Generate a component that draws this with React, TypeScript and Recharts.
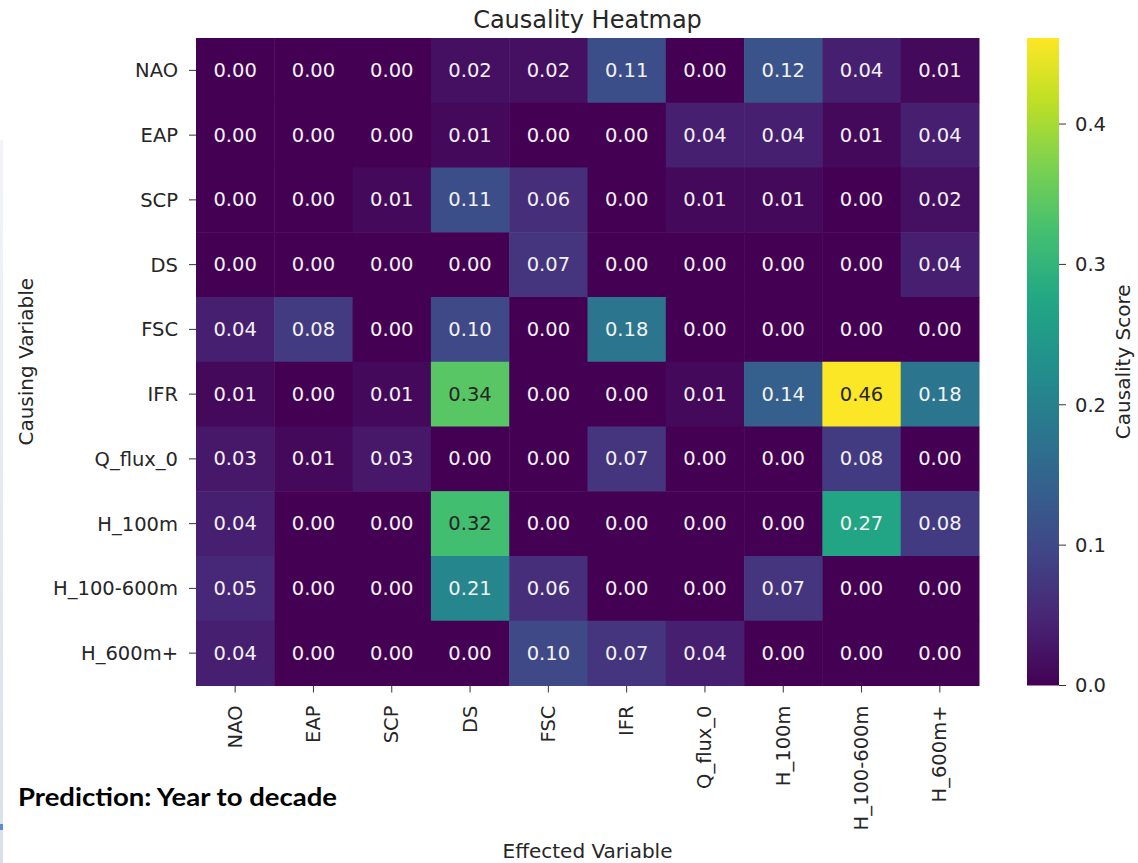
import { ScatterChart, Scatter, XAxis, YAxis, BarChart, Bar } from "recharts";

const effectedVars = ["NAO", "EAP", "SCP", "DS", "FSC", "IFR", "Q_flux_0", "H_100m", "H_100-600m", "H_600m+"];
const causingVars = ["NAO", "EAP", "SCP", "DS", "FSC", "IFR", "Q_flux_0", "H_100m", "H_100-600m", "H_600m+"];

const naoRow = [0.0, 0.0, 0.0, 0.02, 0.02, 0.11, 0.0, 0.12, 0.04, 0.01];
const eapRow = [0.0, 0.0, 0.0, 0.01, 0.0, 0.0, 0.04, 0.04, 0.01, 0.04];
const scpRow = [0.0, 0.0, 0.01, 0.11, 0.06, 0.0, 0.01, 0.01, 0.0, 0.02];
const dsRow = [0.0, 0.0, 0.0, 0.0, 0.07, 0.0, 0.0, 0.0, 0.0, 0.04];
const fscRow = [0.04, 0.08, 0.0, 0.1, 0.0, 0.18, 0.0, 0.0, 0.0, 0.0];
const ifrRow = [0.01, 0.0, 0.01, 0.34, 0.0, 0.0, 0.01, 0.14, 0.46, 0.18];
const qfluxRow = [0.03, 0.01, 0.03, 0.0, 0.0, 0.07, 0.0, 0.0, 0.08, 0.0];
const h100Row = [0.04, 0.0, 0.0, 0.32, 0.0, 0.0, 0.0, 0.0, 0.27, 0.08];
const h100600Row = [0.05, 0.0, 0.0, 0.21, 0.06, 0.0, 0.0, 0.07, 0.0, 0.0];
const h600Row = [0.04, 0.0, 0.0, 0.0, 0.1, 0.07, 0.04, 0.0, 0.0, 0.0];

const scoreRows = [naoRow, eapRow, scpRow, dsRow, fscRow, ifrRow, qfluxRow, h100Row, h100600Row, h600Row];

const colorbarTicks = [0, 0.1, 0.2, 0.3, 0.4];
const VMAX = 0.4613;

// viridis, sampled every 0.1
const viridis = [
  "#440154", "#482475", "#414487", "#355f8d", "#2a788e",
  "#21918c", "#22a884", "#44bf70", "#7ad151", "#bddf26", "#fde725",
];

const W = 1138;
const H = 863;
const PLOT_LEFT = 196;
const PLOT_RIGHT = 979;
const PLOT_TOP = 38;
const PLOT_BOTTOM = 685.5;
const CELL_W = (PLOT_RIGHT - PLOT_LEFT) / effectedVars.length;
const CELL_H = (PLOT_BOTTOM - PLOT_TOP) / causingVars.length;
const FONT = "'DejaVu Sans', sans-serif";
const INK = "#262626";

function hexToRgb(h: string) {
  return [1, 3, 5].map((i) => parseInt(h.slice(i, i + 2), 16));
}

function viridisColor(t: number) {
  const c = Math.max(0, Math.min(1, t)) * (viridis.length - 1);
  const i = Math.min(Math.floor(c), viridis.length - 2);
  const f = c - i;
  const a = hexToRgb(viridis[i]);
  const b = hexToRgb(viridis[i + 1]);
  return a.map((v, k) => Math.round(v + (b[k] - v) * f));
}

function luminance(rgb: number[]) {
  const lin = rgb.map((v) => {
    const s = v / 255;
    return s <= 0.03928 ? s / 12.92 : Math.pow((s + 0.055) / 1.055, 2.4);
  });
  return 0.2126 * lin[0] + 0.7152 * lin[1] + 0.0722 * lin[2];
}

const cells = scoreRows.flatMap((row, y) => row.map((v, x) => ({ x, y, v })));

function HeatCell(props: any) {
  const { cx, cy, payload } = props;
  if (cx == null || cy == null) return null;
  const rgb = viridisColor(payload.v / VMAX);
  // dark text on the bright greens/yellow, light text elsewhere
  const textColor = luminance(rgb) > 0.38 ? INK : "#f2f2f2";
  return (
    <g>
      <rect
        x={cx - CELL_W / 2}
        y={cy - CELL_H / 2}
        width={CELL_W + 0.5}
        height={CELL_H + 0.5}
        fill={`rgb(${rgb.join(",")})`}
      />
      <text
        x={cx}
        y={cy}
        textAnchor="middle"
        dominantBaseline="central"
        fontFamily={FONT}
        fontSize={19.5}
        fill={textColor}
      >
        {payload.v.toFixed(2)}
      </text>
    </g>
  );
}

function XTick(props: any) {
  const { x, y, payload } = props;
  return (
    <text
      x={x}
      y={y}
      transform={`rotate(-90 ${x} ${y})`}
      textAnchor="end"
      dominantBaseline="central"
      fontFamily={FONT}
      fontSize={19.5}
      fill={INK}
    >
      {effectedVars[payload.value]}
    </text>
  );
}

const idx = effectedVars.map((_, i) => i);

export default function App() {
  return (
    <div style={{ position: "absolute", left: 0, top: 0, width: W, height: H, background: "#fff", overflow: "hidden" }}>
      <div style={{ position: "absolute", left: 0, top: 140, width: 3, height: 723, background: "linear-gradient(#f2f4f7, #d9e0e9)" }} />
      <div style={{ position: "absolute", left: 0, top: 824, width: 3, height: 6, background: "#5b8bd0" }} />

      <div style={{ position: "absolute", left: 0, top: 0 }}>
        <ScatterChart width={W} height={H} margin={{ top: PLOT_TOP, right: W - PLOT_RIGHT, bottom: 0, left: 0 }}>
          <XAxis
            type="number"
            dataKey="x"
            domain={[-0.5, 9.5]}
            ticks={idx}
            interval={0}
            height={H - PLOT_BOTTOM}
            axisLine={false}
            tickSize={7}
            tickMargin={13}
            tickLine={{ stroke: "#333" }}
            tick={<XTick />}
          />
          <YAxis
            type="number"
            dataKey="y"
            domain={[-0.5, 9.5]}
            reversed
            ticks={idx}
            interval={0}
            width={PLOT_LEFT}
            axisLine={false}
            tickSize={7}
            tickMargin={11}
            tickLine={{ stroke: "#333" }}
            tickFormatter={(v: number) => causingVars[v]}
            tick={{ fill: INK, fontSize: 19.5, fontFamily: FONT }}
          />
          <Scatter data={cells} shape={<HeatCell />} isAnimationActive={false} />
        </ScatterChart>
      </div>

      <div style={{ position: "absolute", left: 1027, top: 0 }}>
        <BarChart
          width={W - 1027}
          height={H}
          data={[{ name: "cb", v: VMAX }]}
          margin={{ top: PLOT_TOP, right: 0, bottom: H - PLOT_BOTTOM, left: 0 }}
          barCategoryGap={0}
        >
          <defs>
            <linearGradient id="viridisGrad" x1="0" y1="1" x2="0" y2="0">
              {viridis.map((c, i) => (
                <stop key={i} offset={`${i * 10}%`} stopColor={c} />
              ))}
            </linearGradient>
          </defs>
          <XAxis dataKey="name" hide />
          <YAxis
            orientation="right"
            domain={[0, VMAX]}
            ticks={colorbarTicks}
            width={W - 1059}
            axisLine={false}
            tickSize={7}
            tickMargin={9}
            tickLine={{ stroke: "#333" }}
            tickFormatter={(v: number) => v.toFixed(1)}
            tick={{ fill: INK, fontSize: 19.5, fontFamily: FONT }}
          />
          <Bar dataKey="v" fill="url(#viridisGrad)" isAnimationActive={false} />
        </BarChart>
      </div>

      <svg width={W} height={H} style={{ position: "absolute", left: 0, top: 0, pointerEvents: "none" }}>
        <text x={(PLOT_LEFT + PLOT_RIGHT) / 2} y={28} textAnchor="middle" fontFamily={FONT} fontSize={24} fill={INK}>
          Causality Heatmap
        </text>
        <text
          x={33}
          y={(PLOT_TOP + PLOT_BOTTOM) / 2}
          transform={`rotate(-90 33 ${(PLOT_TOP + PLOT_BOTTOM) / 2})`}
          textAnchor="middle"
          fontFamily={FONT}
          fontSize={20}
          fill={INK}
        >
          Causing Variable
        </text>
        <text x={(PLOT_LEFT + PLOT_RIGHT) / 2} y={858} textAnchor="middle" fontFamily={FONT} fontSize={20} fill={INK}>
          Effected Variable
        </text>
        <text
          x={1130}
          y={(PLOT_TOP + PLOT_BOTTOM) / 2}
          transform={`rotate(-90 1130 ${(PLOT_TOP + PLOT_BOTTOM) / 2})`}
          textAnchor="middle"
          fontFamily={FONT}
          fontSize={20}
          fill={INK}
        >
          Causality Score
        </text>
        <text
          x={18}
          y={806}
          fontFamily="Lato, 'Open Sans', sans-serif"
          fontWeight={700}
          fontSize={25}
          fill="#000"
          textLength={319}
          lengthAdjust="spacingAndGlyphs"
        >
          Prediction: Year to decade
        </text>
      </svg>
    </div>
  );
}
